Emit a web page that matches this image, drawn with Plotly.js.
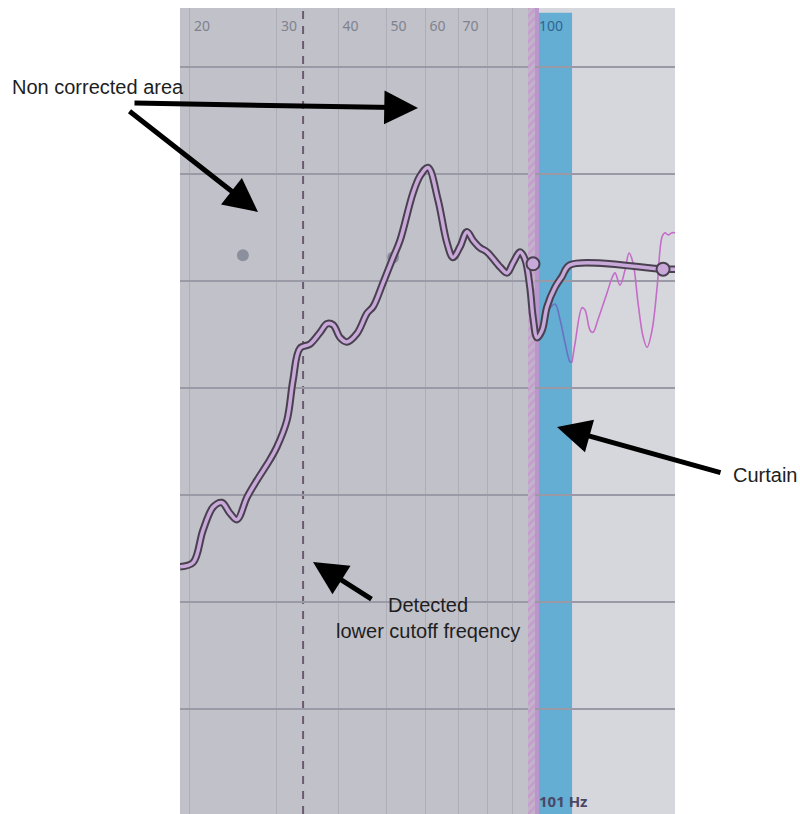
<!DOCTYPE html>
<html>
<head>
<meta charset="utf-8">
<script src="https://cdn.plot.ly/plotly-3.0.1.min.js"></script>
<style>html,body{margin:0;padding:0;background:#fff;}#chart{width:800px;height:814px;}</style>
</head>
<body>
<div id="chart"></div>
<script>
// ---- data ----
const tickFreqs = [20, 30, 40, 50, 60, 70, 80, 90, 100];
const tickLabels = ['20', '30', '40', '50', '60', '70', '', '', '<span style="color:#2f6690">100</span>'];
const gridDb = [-30, -20, -10, 0, 10, 20, 30];

// corrected (thick) response
const respFreq = [19.1,20.3,21.25,22.3,23.2,24.1,24.9,26.1,27.35,29.05,30.0,31.45,32.35,33.4,35.0,36.7,37.9,39.0,40.3,41.6,43.6,45.7,47.0,49.2,51.6,53.3,56.6,58.5,60.7,63.6,66.3,68.2,70.5,72.8,74.9,77.4,80.0,85.0,87.8,90.3,93.3,95.5,97.7,99.1,101.0,103.4,105.8,109.8,113.4,117.8,181.8,192.2];
const respDb   = [-16.7,-16.3,-13.3,-11.1,-10.7,-11.7,-12.3,-10.2,-8.6,-6.7,-5.5,-3.0,0.75,3.7,4.1,5.2,6.0,5.9,4.7,4.3,5.1,7.0,7.6,9.8,12.2,13.8,18.2,19.8,20.6,17.6,13.6,12.2,13.2,14.6,13.8,13.1,12.7,11.3,10.75,11.7,12.7,12.0,9.4,6.6,4.7,5.4,7.6,9.4,10.4,11.5,11.1,11.1];

// uncorrected measurement behind the curtain (thin)
const rawCurtainFreq = [105.8,109.8,112.4,115.1,117.8,118.9];
const rawCurtainDb   = [7.1,7.85,6.4,4.2,2.45,2.4];
const rawFreq = [118.9,120.6,124.6,126.3,129.3,131.1,134.2,140.0,143.3,145.3,148.7,152.2,155.1,158.0,161.8,165.6,168.7,172.7,176.8,180.9,183.4,186.1,189.5,192.2];
const rawDb   = [2.4,4.2,7.5,7.3,5.4,5.2,6.4,8.9,10.3,10.75,9.6,11.0,12.6,11.7,7.9,4.8,3.8,5.4,9.4,14.1,14.5,14.3,14.5,14.5];

// handles
const handleFreq = [99.1, 181.8];
const handleDb = [11.6, 11.1];
const ghostFreq = [25.6, 51.6];
const ghostDb = [12.4, 12.2];

// regions
const cutoffFreq = 33.9;
const hatchStart = 96.8;
const curtainEdge = 100.0;
const curtainFreq = 101.9;
const curtainEnd = 118.9;
const curtainLabel = '101 Hz';

const xMin = 19.09, xMax = 192.2;
const yMin = -39.8, yMax = 35.5;

const traces = [
  { x: [hatchStart, curtainEdge, curtainEdge, hatchStart, hatchStart], y: [yMin, yMin, yMax, yMax, yMin],
    mode: 'lines', line: {width: 0}, fill: 'toself', fillcolor: 'rgba(0,0,0,0)',
    fillpattern: {shape: '/', bgcolor: '#c2b4c8', fgcolor: '#c79ad0', size: 6, solidity: 0.4},
    hoverinfo: 'skip', showlegend: false },
  { x: ghostFreq, y: ghostDb, mode: 'markers', marker: {size: 12, color: '#8c909e'}, showlegend: false },
  { x: rawCurtainFreq, y: rawCurtainDb, mode: 'lines', line: {color: '#6b70c2', width: 1.6, shape: 'spline'}, showlegend: false },
  { x: rawFreq, y: rawDb, mode: 'lines', line: {color: '#c46cc8', width: 1.6, shape: 'spline'}, showlegend: false },
  { x: respFreq, y: respDb, mode: 'lines', line: {color: '#4a4150', width: 7.5, shape: 'spline'}, showlegend: false },
  { x: respFreq, y: respDb, mode: 'lines', line: {color: '#c8a9d9', width: 3.5, shape: 'spline'}, showlegend: false },
  { x: handleFreq, y: handleDb, mode: 'markers',
    marker: {size: 13, color: '#c8a9d9', line: {color: '#4a4150', width: 2}}, showlegend: false }
];

const txtFont = {family: 'Liberation Sans, Arial, sans-serif', size: 20, color: '#1e1e1e'};
function arrow(x, y, ax, ay) {
  return {xref: 'paper', yref: 'paper', x: x, y: y, ax: ax, ay: ay, text: '', showarrow: true,
          arrowhead: 2, arrowsize: 1.35, arrowwidth: 5, arrowcolor: '#000'};
}

const layout = {
  width: 800, height: 814,
  margin: {l: 180, r: 125, t: 8, b: 0},
  paper_bgcolor: '#ffffff',
  plot_bgcolor: '#d6d7dc',
  showlegend: false,
  xaxis: {
    type: 'log', range: [Math.log10(xMin), Math.log10(xMax)],
    side: 'top', tickvals: tickFreqs, ticktext: tickLabels,
    ticklabelposition: 'inside right', ticks: '', ticklabelstandoff: 7, ticklabelshift: 4,
    tickfont: {family: 'Noto Sans, DejaVu Sans, sans-serif', size: 14, color: '#80818e'},
    showgrid: true, gridcolor: '#aeaeb8', gridwidth: 1,
    zeroline: false, showline: false, fixedrange: true
  },
  yaxis: {
    range: [yMin, yMax], tickvals: gridDb, showticklabels: false, ticks: '',
    showgrid: true, gridcolor: '#9a9aa6', gridwidth: 1.3,
    zeroline: false, showline: false, fixedrange: true
  },
  shapes: [
    {type: 'rect', layer: 'below', xref: 'x', yref: 'paper', x0: xMin, x1: hatchStart, y0: 0, y1: 1,
     fillcolor: '#c1c1c9', line: {width: 0}},
    {type: 'rect', layer: 'below', xref: 'x', yref: 'paper', x0: curtainEdge, x1: curtainFreq, y0: 0, y1: 1,
     fillcolor: '#bb96cd', line: {width: 0}},
    {type: 'rect', layer: 'below', xref: 'x', yref: 'paper', x0: curtainFreq, x1: curtainEnd, y0: 0, y1: 0.994,
     fillcolor: '#64add3', line: {width: 0}},
    {type: 'line', layer: 'below', xref: 'x', yref: 'paper', x0: cutoffFreq, x1: cutoffFreq, y0: 0, y1: 1,
     line: {color: '#6b5a70', width: 2, dash: '8px,7px'}}
  ],
  annotations: [
    {xref: 'paper', yref: 'paper', x: -0.1657, y: 0.902, text: 'Non corrected area', showarrow: false,
     xanchor: 'center', yanchor: 'middle', font: txtFont},
    {xref: 'paper', yref: 'paper', x: 1.1818, y: 0.4206, text: 'Curtain', showarrow: false,
     xanchor: 'center', yanchor: 'middle', font: txtFont},
    {xref: 'paper', yref: 'paper', x: 0.501, y: 0.2432, text: 'Detected<br>lower cutoff freqency', showarrow: false,
     xanchor: 'center', yanchor: 'middle', align: 'center', font: txtFont},
    arrow(0.1576, 0.7469, -130, -102),
    arrow(0.4808, 0.8759, -285, -5),
    arrow(0.7616, 0.4801, 165, 46),
    arrow(0.2687, 0.3127, 60, 38),
    {xref: 'x', yref: 'paper', x: Math.log10(curtainFreq), y: 0, text: '<b>' + curtainLabel + '</b>', showarrow: false,
     xanchor: 'left', yanchor: 'bottom', yshift: 1, xshift: -2,
     font: {family: 'Noto Sans, DejaVu Sans, sans-serif', size: 15, color: '#4a4866'}}
  ]
};

Plotly.newPlot('chart', traces, layout, {displayModeBar: false, staticPlot: true});
</script>
</body>
</html>
